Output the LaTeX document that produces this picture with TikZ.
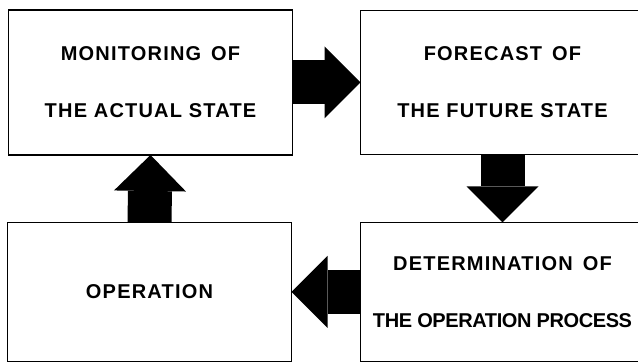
\documentclass[tikz,border=0pt]{standalone}
\usepackage{fontspec}
\newfontfamily\stagefont[LetterSpace=6]{Liberation Sans Bold}
\usetikzlibrary{arrows.meta,positioning}

\begin{document}
\begin{tikzpicture}[
    x=1pt, y=1pt,
    stage/.style={draw, line width=1.4pt, inner sep=0pt, outer sep=0pt, minimum width=284pt, align=center,
      font=\stagefont\fontsize{20}{57}\selectfont},
    flow/.style={line width=44pt, -{Triangle[length=36pt, width=72pt, line width=0pt]}}
  ]
  \useasboundingbox (0,0) rectangle (638,363);
  \clip (0,0) rectangle (638,363);
  % Boxes
  \node[stage, minimum height=145pt] (mon) at (150.5,280.5) {MONITORING\enspace OF\\THE ACTUAL STATE};
  \node[stage, minimum height=144pt, right=68pt of mon] (fore) {FORECAST\enspace OF\\THE FUTURE STATE};
  \node[stage, minimum height=139pt, below=68pt of fore] (det) {DETERMINATION\enspace OF\\{\addfontfeature{LetterSpace=-2}THE OPERATION PROCESS}};
  \node[stage, minimum height=139pt, left=69pt of det] (op) {OPERATION};

  % Arrows
  \draw[flow] (mon.east) -- (fore.west);
  \draw[flow] (fore.south) -- (det.north);
  \draw[flow] (det.west) -- (op.east);
  \draw[flow] (op.north) -- (mon.south);
\end{tikzpicture}
\end{document}
